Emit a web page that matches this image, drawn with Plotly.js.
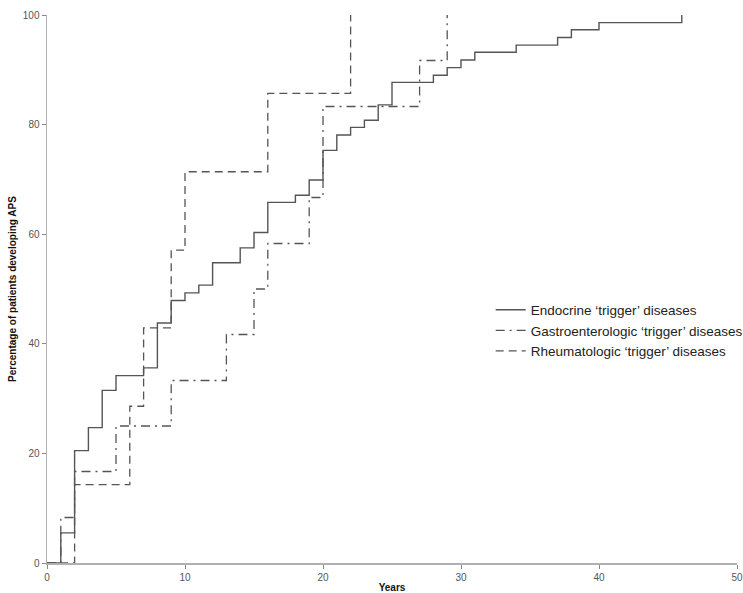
<!DOCTYPE html>
<html>
<head>
<meta charset="utf-8">
<script src="https://cdn.plot.ly/plotly-3.0.1.min.js"></script>
<style>html,body{margin:0;padding:0;background:#fff;}#chart{width:743px;height:593px;}</style>
</head>
<body>
<div id="chart"></div>
<script>
// Years since first 'trigger' disease and cumulative percentage developing APS
const endoYears = [0, 1, 2, 3, 4, 5, 7, 8, 9, 10, 11, 12, 14, 15, 16, 18, 19, 20, 21, 22, 23, 24, 25, 28, 29, 30, 31, 34, 37, 38, 40, 46];
const endoPct   = [0, 5.5, 20.5, 24.7, 31.5, 34.2, 35.6, 43.8, 47.9, 49.3, 50.7, 54.8, 57.5, 60.3, 65.8, 67.1, 69.9, 75.3, 78.1, 79.5, 80.8, 83.6, 87.7, 89.0, 90.4, 91.8, 93.2, 94.5, 95.9, 97.3, 98.6, 100];

const gastroYears = [0, 1, 2, 5, 9, 13, 15, 16, 19, 20, 27, 29];
const gastroPct   = [0, 8.3, 16.7, 25, 33.3, 41.7, 50, 58.3, 66.7, 83.3, 91.7, 100];

const rheumYears = [0, 2, 6, 7, 9, 10, 16, 22];
const rheumPct   = [0, 14.3, 28.6, 42.9, 57.1, 71.4, 85.7, 100];

const seriesNames = [
  "Endocrine \u2018trigger\u2019 diseases",
  "Gastroenterologic \u2018trigger\u2019 diseases",
  "Rheumatologic \u2018trigger\u2019 diseases"
];

const xTicks = [0, 10, 20, 30, 40, 50];
const yTicks = [0, 20, 40, 60, 80, 100];

const lineColor = "#555555";
const traces = [
  {x: endoYears, y: endoPct, name: seriesNames[0], mode: "lines",
   line: {shape: "hv", color: lineColor, width: 1.4, dash: "solid"}},
  {x: gastroYears, y: gastroPct, name: seriesNames[1], mode: "lines",
   line: {shape: "hv", color: lineColor, width: 1.3, dash: "9px,5px,2px,5px"}},
  {x: rheumYears, y: rheumPct, name: seriesNames[2], mode: "lines",
   line: {shape: "hv", color: lineColor, width: 1.3, dash: "8px,5px"}}
];

const axisFont = {family: "Liberation Sans, Arial, sans-serif", size: 10, color: "#555"};
const layout = {
  width: 743, height: 593,
  margin: {l: 47, r: 6, t: 15, b: 30, autoexpand: false},
  paper_bgcolor: "#fff", plot_bgcolor: "#fff",
  showlegend: true,
  legend: {
    x: 0.643, y: 0.490, xanchor: "left", yanchor: "top",
    font: {family: "Liberation Sans, Arial, sans-serif", size: 13.5, color: "#222"},
    bgcolor: "rgba(0,0,0,0)", tracegroupgap: 0, itemwidth: 30
  },
  xaxis: {
    range: [0, 50], tickvals: xTicks, ticktext: xTicks.map(String),
    ticks: "outside", ticklen: 4, tickcolor: "#888", tickwidth: 1,
    showline: true, linecolor: "#b0b0b0", linewidth: 1.5,
    showgrid: false, zeroline: false, tickfont: axisFont,
    title: {text: "<b>Years</b>", font: {family: "Liberation Sans, Arial, sans-serif", size: 10, color: "#111"}, standoff: 10},
    automargin: false
  },
  yaxis: {
    range: [0, 100], tickvals: yTicks, ticktext: yTicks.map(String),
    ticks: "outside", ticklen: 4, tickcolor: "#888", tickwidth: 1,
    showline: true, linecolor: "#b0b0b0", linewidth: 1.5,
    showgrid: false, zeroline: false, tickfont: axisFont,
    title: {text: "<b>Percentage of patients developing APS</b>", font: {family: "Liberation Sans, Arial, sans-serif", size: 10, color: "#111"}, standoff: 4},
    automargin: false
  }
};

Plotly.newPlot("chart", traces, layout, {displayModeBar: false, staticPlot: true});
</script>
</body>
</html>
